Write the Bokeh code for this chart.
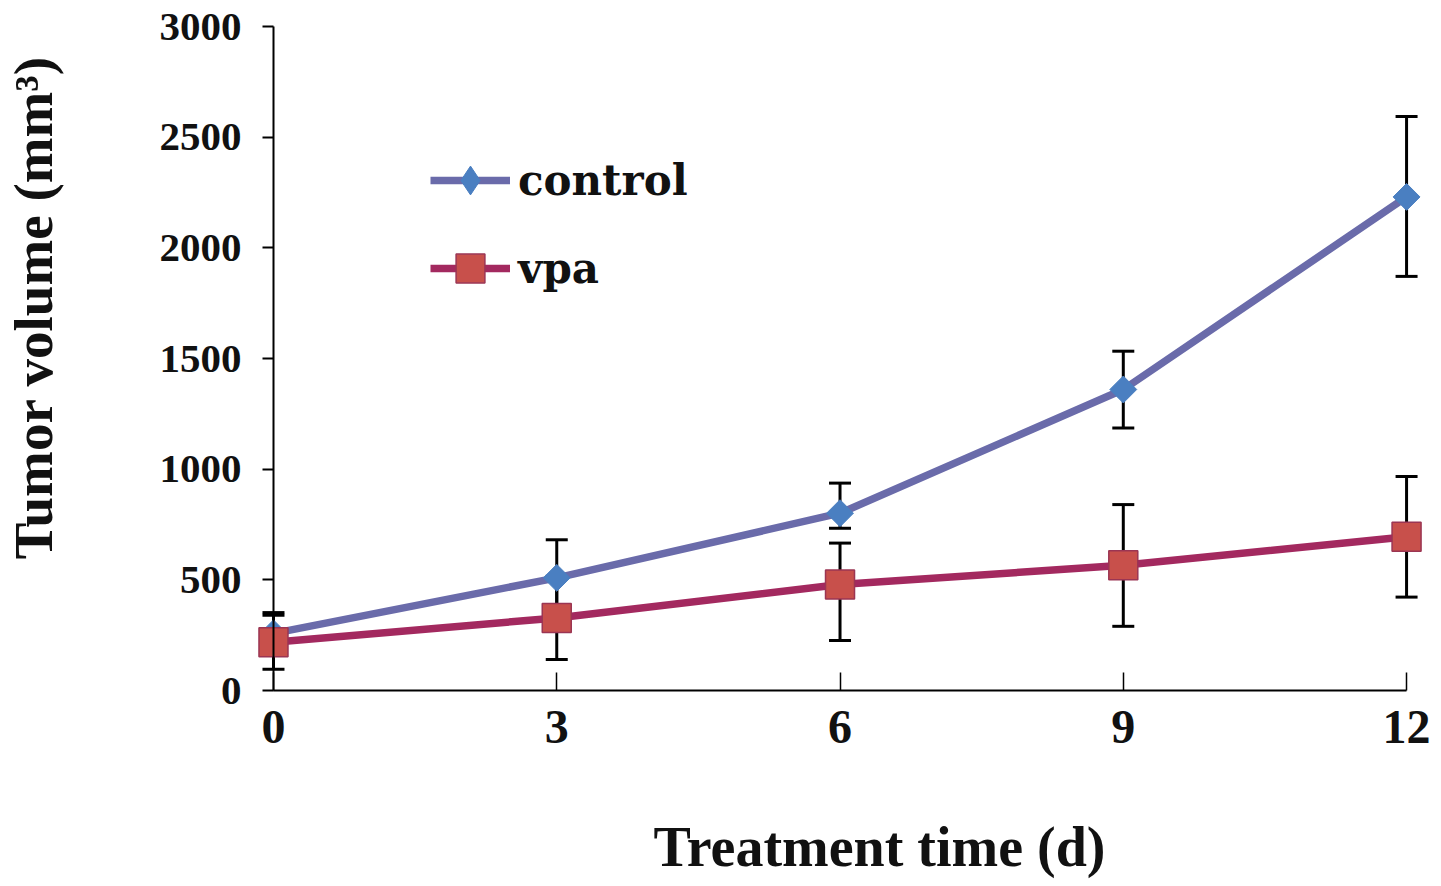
import math

from bokeh.plotting import figure
from bokeh.models import (ColumnDataSource, Range1d, FixedTicker, Whisker, TeeHead,
                          Legend, LegendItem, Label)
from bokeh.embed import file_html
from bokeh.resources import INLINE

# treatment day and tumor volume (mm3)
days = [0, 3, 6, 9, 12]
control_mean = [258, 509, 801, 1360, 2230]
control_upper = [352, 681, 937, 1533, 2593]
control_lower = [164, 337, 733, 1186, 1871]
vpa_mean = [218, 328, 479, 566, 695]
vpa_upper = [340, 516, 666, 840, 967]
vpa_lower = [96, 140, 226, 290, 422]

x_ticks = [0, 3, 6, 9, 12]
y_ticks = [0, 500, 1000, 1500, 2000, 2500, 3000]

SERIF = "Liberation Serif"
INK = "#111111"
W, H = 1441, 884

control_src = ColumnDataSource(data=dict(x=days, y=control_mean, up=control_upper, lo=control_lower))
vpa_src = ColumnDataSource(data=dict(x=days, y=vpa_mean, up=vpa_upper, lo=vpa_lower))

# the frame fills the whole canvas; the axes sit at x = 0 and y = 0 inside it
p = figure(width=W, height=H, x_range=Range1d(-2.891, 12.370), y_range=Range1d(-876.5, 3117.5),
           output_backend="svg", toolbar_location=None, min_border=0)
p.outline_line_color = None
p.xgrid.visible = False
p.ygrid.visible = False

p.yaxis.fixed_location = 0
p.yaxis.bounds = (0, 3000)
p.yaxis.ticker = FixedTicker(ticks=y_ticks)
p.yaxis.axis_line_width = 2
p.yaxis.major_tick_out = 11
p.yaxis.major_tick_in = 0
p.yaxis.minor_tick_line_color = None
p.yaxis.major_tick_line_width = 2
p.yaxis.major_label_standoff = 21
p.yaxis.major_label_text_font = SERIF
p.yaxis.major_label_text_font_style = "bold"
p.yaxis.major_label_text_font_size = "41px"
p.yaxis.major_label_text_color = INK

p.xaxis.fixed_location = 0
p.xaxis.bounds = (0, 12)
p.xaxis.ticker = FixedTicker(ticks=x_ticks)
p.xaxis.major_tick_in = 18
p.xaxis.major_tick_out = 0
p.xaxis.minor_tick_line_color = None
p.xaxis.axis_line_width = 2
p.xaxis.major_tick_line_width = 1.5
p.xaxis.major_label_standoff = 20
p.xaxis.major_label_text_font = SERIF
p.xaxis.major_label_text_font_style = "bold"
p.xaxis.major_label_text_font_size = "48px"
p.xaxis.major_label_text_color = INK

# error bars, behind the markers
for src in (control_src, vpa_src):
    w = Whisker(source=src, base="x", upper="up", lower="lo", level="underlay",
                line_color="black", line_width=3,
                upper_head=TeeHead(size=22, line_width=3, line_color="black"),
                lower_head=TeeHead(size=22, line_width=3, line_color="black"))
    p.add_layout(w)

cl = p.line("x", "y", source=control_src, line_color="#6A6BAA", line_width=7.5)
# plain diamond under the turned square: only its legend key is seen
ck = p.scatter("x", "y", source=control_src, marker="diamond", size=24,
               fill_color="#4A7FC1", line_color="#4A7FC1")
cs = p.scatter("x", "y", source=control_src, marker="square", size=19, angle=math.pi / 4,
               fill_color="#4A7FC1", line_color="#4A7FC1")
vl = p.line("x", "y", source=vpa_src, line_color="#A3295F", line_width=7.5)
vs = p.scatter("x", "y", source=vpa_src, marker="square", size=29,
               fill_color="#C8504B", line_color="#9B3553", line_width=1.5)

legend = Legend(items=[LegendItem(label="control", renderers=[cl, ck]),
                       LegendItem(label="vpa", renderers=[vl, vs])],
                location=(430, H - 304), glyph_width=80, glyph_height=72, spacing=16,
                padding=0, margin=0, border_line_color=None, background_fill_alpha=0,
                label_text_font="DejaVu Serif", label_text_font_style="bold",
                label_text_font_size="42px", label_standoff=8, label_text_color=INK)
p.add_layout(legend)

# axis titles (screen units from the frame's bottom-left)
p.add_layout(Label(x=33, y=H - 307, x_units="screen", y_units="screen",
                   text="Tumor volume (mm³)", angle=math.pi / 2,
                   text_align="center", text_baseline="middle",
                   text_font=SERIF, text_font_style="bold", text_font_size="55px",
                   text_color=INK))
p.add_layout(Label(x=886, y=H - 846, x_units="screen", y_units="screen",
                   text="Treatment  time (d)",
                   text_align="center", text_baseline="middle",
                   text_font=SERIF, text_font_style="bold", text_font_size="56px",
                   text_color=INK))

open("out.html", "w").write(file_html(p, INLINE))
